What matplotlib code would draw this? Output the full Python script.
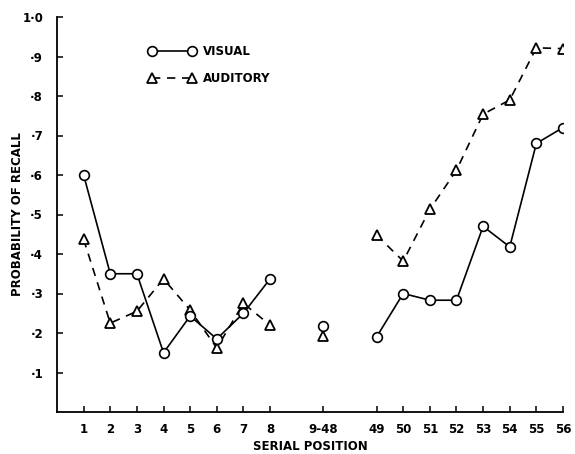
import matplotlib
matplotlib.use('Agg')
import numpy as np
import matplotlib.pyplot as plt

# serial positions (plotting slots) and their labels
pos_first = [1, 2, 3, 4, 5, 6, 7, 8]
pos_mid = [10]
pos_last = [12, 13, 14, 15, 16, 17, 18, 19]
xtick_labels = ['1', '2', '3', '4', '5', '6', '7', '8', '9-48',
                '49', '50', '51', '52', '53', '54', '55', '56']

visual_first = [0.60, 0.35, 0.35, 0.15, 0.243, 0.185, 0.25, 0.337]
visual_mid = [0.218]
visual_last = [0.19, 0.30, 0.283, 0.283, 0.47, 0.418, 0.68, 0.72]

auditory_first = [0.437, 0.225, 0.255, 0.337, 0.258, 0.162, 0.275, 0.22]
auditory_mid = [0.192]
auditory_last = [0.448, 0.382, 0.513, 0.612, 0.754, 0.79, 0.922, 0.92]

yticks = [0.1, 0.2, 0.3, 0.4, 0.5, 0.6, 0.7, 0.8, 0.9, 1.0]
ytick_labels = ['·1', '·2', '·3', '·4', '·5', '·6', '·7', '·8', '·9', '1·0']

plt.rcParams['font.family'] = ['DejaVu Sans']
plt.rcParams['font.weight'] = 'bold'
fs = 8.5

fig = plt.figure(figsize=(5.75, 4.54), dpi=100)
ax = fig.add_axes([57 / 575, 1 - 412 / 454, (563 - 57) / 575, (412 - 17) / 454])

vis_kw = dict(color='black', lw=1.2, marker='o', ms=7, mfc='white', mec='black', mew=1.2)
aud_kw = dict(color='black', lw=1.2, ls=(0, (5, 4)), marker='^', ms=7, mfc='white', mec='black', mew=1.3)

ax.plot(pos_first, auditory_first, **aud_kw)
ax.plot(pos_last, auditory_last, **aud_kw)
ax.plot(pos_mid, auditory_mid, ls='none', **{k: v for k, v in aud_kw.items() if k != 'ls'})
l_vis, = ax.plot(pos_first, visual_first, **vis_kw)
ax.plot(pos_last, visual_last, **vis_kw)
ax.plot(pos_mid, visual_mid, ls='none', **vis_kw)
l_aud, = ax.plot([], [], **aud_kw)

ax.set_xlim(0, 19)
ax.set_ylim(0, 1.0)
ax.set_xticks(pos_first + pos_mid + pos_last)
ax.set_xticklabels(xtick_labels)
ax.set_yticks(yticks)
ax.set_yticklabels(ytick_labels)
ax.tick_params(direction='in', length=4, width=1.1, labelsize=fs)
ax.tick_params(axis='x', pad=8)
ax.tick_params(axis='y', pad=10)
for s in ['top', 'right']:
    ax.spines[s].set_visible(False)
for s in ['left', 'bottom']:
    ax.spines[s].set_linewidth(1.3)

ax.set_xlabel('SERIAL POSITION', fontsize=fs, fontweight='bold', labelpad=3)
ax.set_ylabel('PROBABILITY OF RECALL', fontsize=fs, fontweight='bold')
ax.yaxis.set_label_coords(-0.066, 0.5)

ax.legend([l_vis, l_aud], ['VISUAL', 'AUDITORY'], loc='upper left',
          bbox_to_anchor=(0.16, 0.955), frameon=False, numpoints=2,
          handlelength=4.0, fontsize=fs, labelspacing=1.15, handletextpad=0.6)

fig.savefig('out.png', dpi=100)
